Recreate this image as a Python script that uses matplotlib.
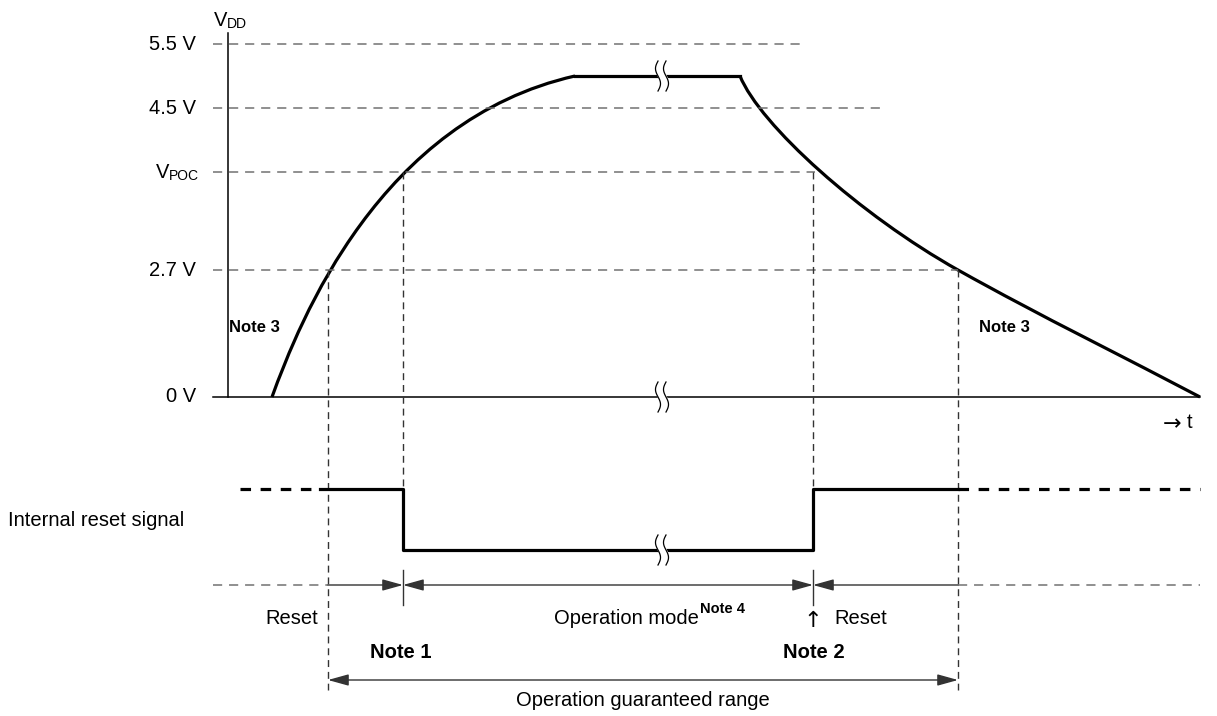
import numpy as np
import matplotlib.pyplot as plt
from matplotlib.path import Path
from matplotlib.patches import PathPatch

plt.rcParams['font.family'] = ['Liberation Sans', 'DejaVu Sans']

# schematic coordinates (x: time axis, y: drawing units, top = small)
level_names = ['5.5 V', '4.5 V', 'VPOC', '2.7 V', '0 V']
level_y = [44, 108, 172, 270, 397]
level_end = [805, 880, 815, 958, 1200]

# VDD curve: bezier control points (start, ctrl, ctrl, end)
rise_ctrl = [(272, 397), (300, 320), (380, 120), (575, 76)]
flat_t = [575, 740]
flat_v = [76, 76]
fall_ctrl = [(740, 76), (760, 125), (860, 215), (958, 270),
             (1040, 316), (1130, 360), (1200, 397)]

reset_t = [320, 403, 403, 813, 813, 958]
reset_y = [489, 489, 550, 550, 489, 489]

t_reset_end = 403   # Note 1
t_reset_start = 813  # Note 2
t_lo = 328   # 2.7 V on rise
t_hi = 958   # 2.7 V on fall
t_break = 662

fig = plt.figure(figsize=(12.17, 7.16), dpi=100)
ax = fig.add_axes([0, 0, 1, 1])
ax.set_xlim(0, 1217)
ax.set_ylim(716, 0)
ax.axis('off')

gray = '#727272'
dash_h = (0, (6, 4.5))
dash_v = (0, (5, 3.5))

# horizontal level lines + labels
for name, y, xe in zip(level_names, level_y, level_end):
    if name != '0 V':
        ax.plot([213, xe], [y, y], color=gray, lw=1.1, ls=dash_h)
    if name == 'VPOC':
        ax.text(169, y, 'V', ha='right', va='center', fontsize=14.5)
        ax.text(169, y + 4, 'POC', ha='left', va='center', fontsize=10)
    else:
        ax.text(196, y, name, ha='right', va='center', fontsize=14.5)

# axes
ax.plot([228, 228], [33, 397], color='black', lw=1.1)
ax.plot([213, 1200], [397, 397], color='black', lw=1.1)
ax.text(227, 20, 'V', ha='right', va='center', fontsize=14.5)
ax.text(227, 24, 'DD', ha='left', va='center', fontsize=10)
ax.text(1163, 424, '\u2192', ha='left', va='center', fontsize=16, family='DejaVu Sans')
ax.text(1187, 422, 't', ha='left', va='center', fontsize=14.5)

# vertical guide lines
ax.plot([t_lo, t_lo], [270, 690], color='#333333', lw=1.0, ls=dash_v)
ax.plot([t_hi, t_hi], [270, 690], color='#333333', lw=1.0, ls=dash_v)
ax.plot([t_reset_end, t_reset_end], [172, 489], color='#333333', lw=1.0, ls=dash_v)
ax.plot([t_reset_start, t_reset_start], [172, 489], color='#333333', lw=1.0, ls=dash_v)

# VDD curve
codes = [Path.MOVETO] + [Path.CURVE4] * 3
ax.add_patch(PathPatch(Path(rise_ctrl, codes), fill=False, color='black', lw=2.3))
ax.plot(flat_t, flat_v, color='black', lw=2.3)
codes = [Path.MOVETO] + [Path.CURVE4] * 6
ax.add_patch(PathPatch(Path(fall_ctrl, codes), fill=False, color='black', lw=2.3))

# internal reset signal
ax.plot([240, 320], [489, 489], color='black', lw=2.3, ls=(0, (3.3, 3)))
ax.plot(reset_t, reset_y, color='black', lw=2.3)
ax.plot([958, 1200], [489, 489], color='black', lw=2.3, ls=(0, (3.3, 3)))
ax.text(8, 521, 'Internal reset signal', ha='left', va='center', fontsize=14.5)


# break marks
def break_mark(x0, yc):
    s = np.linspace(-15, 15, 60)
    xa = x0 - 4 + 2.5 * np.sin(np.pi * s / 15)
    xb = x0 + 4 + 2.5 * np.sin(np.pi * s / 15)
    ax.fill_betweenx(yc + s, xa, xb, color='white', zorder=5)
    ax.plot(xa, yc + s, color='black', lw=0.9, zorder=6)
    ax.plot(xb, yc + s, color='black', lw=0.9, zorder=6)


for yc in [76, 397, 550]:
    break_mark(t_break, yc)

# Note 3 labels
for xc in [254, 1004]:
    ax.text(xc, 327, 'Note 3', ha='center', va='center', fontsize=12,
            fontweight='bold',
            family=['Liberation Sans Narrow', 'DejaVu Sans Condensed', 'Liberation Sans'])

# mode row
ya = 585
ax.plot([213, t_lo], [ya, ya], color=gray, lw=1.1, ls=dash_h)
ax.plot([t_hi, 1200], [ya, ya], color=gray, lw=1.1, ls=dash_h)
arw = dict(color='#333333', lw=1.0, shrinkA=0, shrinkB=0, mutation_scale=14)
ax.annotate('', xy=(t_reset_end, ya), xytext=(t_lo, ya),
            arrowprops=dict(arrowstyle='-|>,head_length=0.9,head_width=0.25', **arw))
ax.annotate('', xy=(t_reset_start, ya), xytext=(t_reset_end, ya),
            arrowprops=dict(arrowstyle='<|-|>,head_length=0.9,head_width=0.25', **arw))
ax.annotate('', xy=(t_reset_start, ya), xytext=(t_hi, ya),
            arrowprops=dict(arrowstyle='-|>,head_length=0.9,head_width=0.25', **arw))
for x in [t_reset_end, t_reset_start]:
    ax.plot([x, x], [570, 605], color='#333333', lw=1.0)

ax.text(318, 619, 'Reset', ha='right', va='center', fontsize=14.5)
ax.text(699, 619, 'Operation mode', ha='right', va='center', fontsize=14.5)
ax.text(700, 609, 'Note 4', ha='left', va='center', fontsize=10.5, fontweight='bold')
ax.text(813, 621, '\u2191', ha='center', va='center', fontsize=16, family='DejaVu Sans')
ax.text(834, 619, 'Reset', ha='left', va='center', fontsize=14.5)
ax.text(401, 652, 'Note 1', ha='center', va='center', fontsize=14.5, fontweight='bold')
ax.text(814, 652, 'Note 2', ha='center', va='center', fontsize=14.5, fontweight='bold')

# guaranteed range
ax.annotate('', xy=(t_hi, 680), xytext=(t_lo, 680),
            arrowprops=dict(arrowstyle='<|-|>,head_length=0.9,head_width=0.25', **arw))
ax.text(643, 701, 'Operation guaranteed range', ha='center', va='center', fontsize=14.5)

fig.savefig('out.png', dpi=100)
